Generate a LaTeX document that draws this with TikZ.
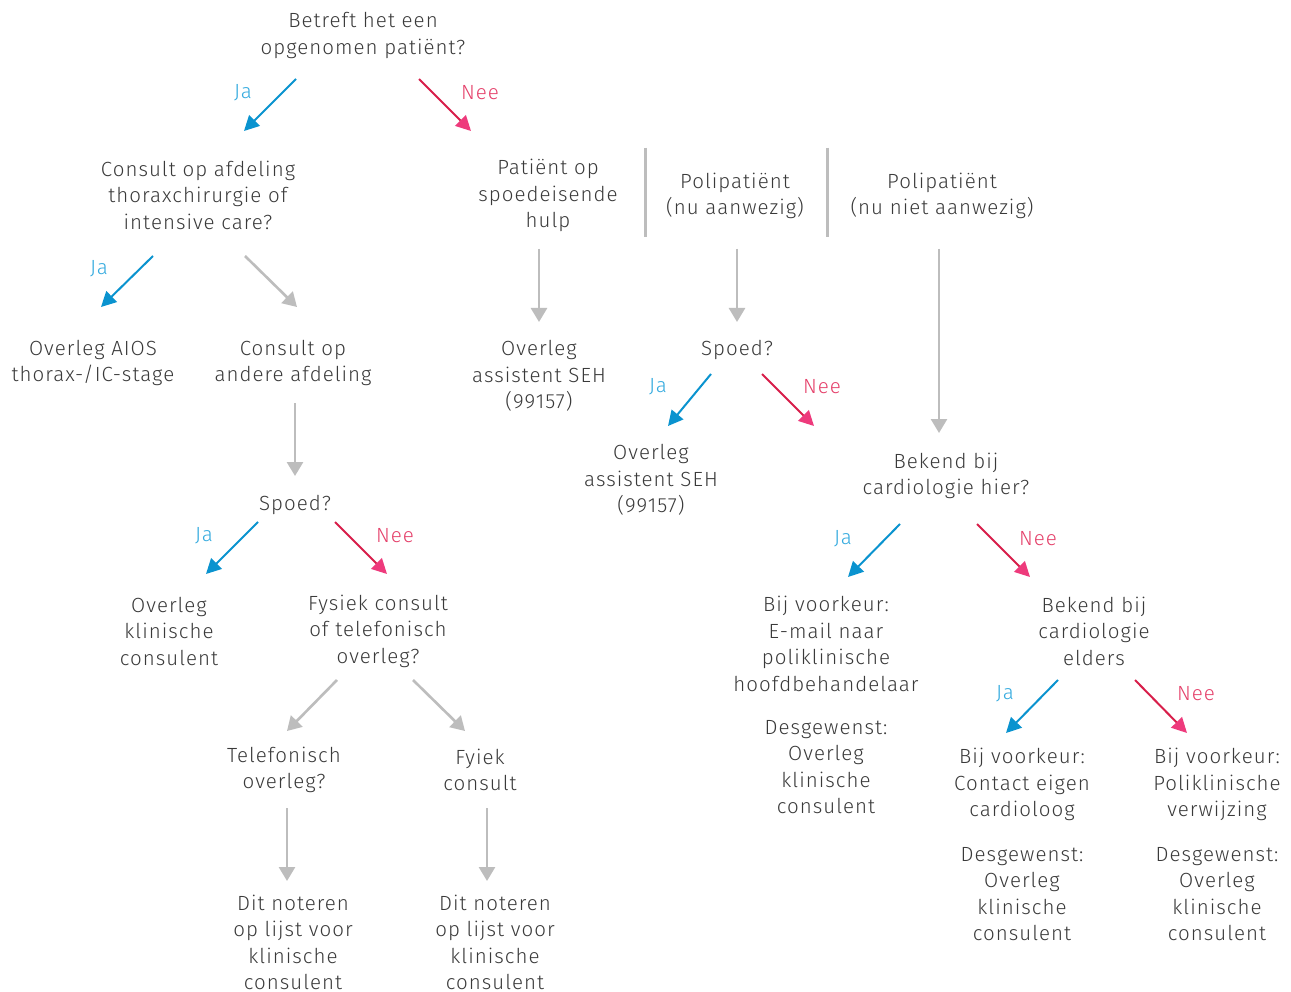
\documentclass[tikz,border=0pt]{standalone}
\usepackage{fontspec}
\IfFontExistsTF{Fira Sans Light}{\setmainfont{Fira Sans Light}[LetterSpace=5]}{\setmainfont{Fira Sans}[LetterSpace=5]}
\usetikzlibrary{arrows.meta}
\definecolor{txt}{HTML}{3A3A3A}
\definecolor{jaline}{HTML}{0A93CF}
\definecolor{jatxt}{HTML}{33AADF}
\definecolor{neeline}{HTML}{D81E4A}
\definecolor{neehead}{HTML}{EE3A7C}
\definecolor{neetxt}{HTML}{E5406A}
\definecolor{grayline}{HTML}{BDBDBD}
\tikzset{
  box/.style={align=center, text=txt, font=\fontsize{20.5}{26.5}\selectfont, inner sep=0pt, yshift=-1.5pt},
  lbl/.style={font=\fontsize{20.5}{26.5}\selectfont, inner sep=0pt, yshift=-1pt},
  jaarrow/.style={draw=jaline, line width=2pt, -{Triangle[length=15pt,width=15pt,color=jaline]}},
  neearrow/.style={draw=neeline, line width=2pt, -{Triangle[length=15pt,width=15pt,color=neehead]}},
  grayarrow/.style={draw=grayline, line width=2.6pt, -{Triangle[length=14pt,width=16pt,color=grayline]}},
  sepbar/.style={draw=grayline, line width=3pt},
}
\begin{document}
\begin{tikzpicture}[x=1pt,y=-1pt]
\useasboundingbox[fill=white] (0,0) rectangle (1291,992);

% nodes
\node[box] (q1) at (363,34) {Betreft het een\\opgenomen patiënt?};
\node[box] (q2) at (198,193.5) {Consult op afdeling\\thoraxchirurgie of\\intensive care?};
\node[box] (seh) at (548,194) {Patiënt op\\spoedeisende\\hulp};
\node[box] (pa) at (735,194.5) {Polipatiënt\\(nu aanwezig)};
\node[box] (pn) at (942,194.5) {Polipatiënt\\(nu niet aanwezig)};
\node[box] (aios) at (93,361.5) {Overleg AIOS\\thorax-/IC-stage};
\node[box] (ander) at (293,361.5) {Consult op\\andere afdeling};
\node[box] (seh1) at (539,374.5) {Overleg\\assistent SEH\\(99157)};
\node[box] (sp1) at (737,348) {Spoed?};
\node[box] (seh2) at (651,478.5) {Overleg\\assistent SEH\\(99157)};
\node[box] (hier) at (946,474.5) {Bekend bij\\cardiologie hier?};
\node[box] (sp2) at (295,503) {Spoed?};
\node[box] (klin) at (169,629.5) {Overleg\\klinische\\consulent};
\node[box] (fys) at (378,629.5) {Fysiek consult\\of telefonisch\\overleg?};
\node[box] (email) at (826,642.5) {Bij voorkeur:\\E-mail naar\\poliklinische\\hoofdbehandelaar};
\node[box] (desg1) at (826,765.5) {Desgewenst:\\Overleg\\klinische\\consulent};
\node[box] (elders) at (1094,629.5) {Bekend bij\\cardiologie\\elders};
\node[box] (tel) at (284,768.5) {Telefonisch\\overleg?};
\node[box] (fyiek) at (480,768.5) {Fyiek\\consult};
\node[box] (eigen) at (1022,783) {Bij voorkeur:\\Contact eigen\\cardioloog};
\node[box] (desg2) at (1022,892.5) {Desgewenst:\\Overleg\\klinische\\consulent};
\node[box] (poli) at (1217,783) {Bij voorkeur:\\Poliklinische\\verwijzing};
\node[box] (desg3) at (1217,892.5) {Desgewenst:\\Overleg\\klinische\\consulent};
\node[box] (dit1) at (293,941) {Dit noteren\\op lijst voor\\klinische\\consulent};
\node[box] (dit2) at (495,941) {Dit noteren\\op lijst voor\\klinische\\consulent};

% separator bars
\coordinate (b1t) at (645,148); \coordinate (b1b) at (645,237);
\coordinate (b2t) at (827,148); \coordinate (b2b) at (827,237);
\draw[sepbar] (b1t) -- (b1b);
\draw[sepbar] (b2t) -- (b2b);

% arrow end points
\coordinate (a1s) at (296,79);  \coordinate (a1e) at (244,131);
\coordinate (a2s) at (419,79);  \coordinate (a2e) at (471,131);
\coordinate (a3s) at (153,256); \coordinate (a3e) at (101,307);
\coordinate (a4s) at (245,256); \coordinate (a4e) at (297,307);
\coordinate (a5s) at (539,249); \coordinate (a5e) at (539,322);
\coordinate (a6s) at (737,249); \coordinate (a6e) at (737,322);
\coordinate (a7s) at (939,249); \coordinate (a7e) at (939,433);
\coordinate (a8s) at (711,374); \coordinate (a8e) at (668,426);
\coordinate (a9s) at (762,374); \coordinate (a9e) at (814,426);
\coordinate (a10s) at (295,403); \coordinate (a10e) at (295,476);
\coordinate (a11s) at (258,522); \coordinate (a11e) at (206,574);
\coordinate (a12s) at (335,522); \coordinate (a12e) at (387,574);
\coordinate (a13s) at (900,524); \coordinate (a13e) at (848,577);
\coordinate (a14s) at (977,524); \coordinate (a14e) at (1030,577);
\coordinate (a15s) at (337,680); \coordinate (a15e) at (287,731);
\coordinate (a16s) at (413,680); \coordinate (a16e) at (465,731);
\coordinate (a17s) at (1058,680); \coordinate (a17e) at (1006,733);
\coordinate (a18s) at (1135,680); \coordinate (a18e) at (1187,733);
\coordinate (a19s) at (287,808); \coordinate (a19e) at (287,881);
\coordinate (a20s) at (487,808); \coordinate (a20e) at (487,881);

\draw[jaarrow] (a1s) -- (a1e);
\draw[neearrow] (a2s) -- (a2e);
\draw[jaarrow] (a3s) -- (a3e);
\draw[grayarrow] (a4s) -- (a4e);
\draw[grayarrow] (a5s) -- (a5e);
\draw[grayarrow] (a6s) -- (a6e);
\draw[grayarrow] (a7s) -- (a7e);
\draw[jaarrow] (a8s) -- (a8e);
\draw[neearrow] (a9s) -- (a9e);
\draw[grayarrow] (a10s) -- (a10e);
\draw[jaarrow] (a11s) -- (a11e);
\draw[neearrow] (a12s) -- (a12e);
\draw[jaarrow] (a13s) -- (a13e);
\draw[neearrow] (a14s) -- (a14e);
\draw[grayarrow] (a15s) -- (a15e);
\draw[grayarrow] (a16s) -- (a16e);
\draw[jaarrow] (a17s) -- (a17e);
\draw[neearrow] (a18s) -- (a18e);
\draw[grayarrow] (a19s) -- (a19e);
\draw[grayarrow] (a20s) -- (a20e);

% labels
\node[lbl,text=jatxt] (l1) at (243,92) {Ja};
\node[lbl,text=neetxt] (l2) at (480,92) {Nee};
\node[lbl,text=jatxt] (l3) at (99,268) {Ja};
\node[lbl,text=jatxt] (l4) at (658,386) {Ja};
\node[lbl,text=neetxt] (l5) at (822,386) {Nee};
\node[lbl,text=jatxt] (l6) at (204,535) {Ja};
\node[lbl,text=neetxt] (l7) at (395,535) {Nee};
\node[lbl,text=jatxt] (l8) at (843,538) {Ja};
\node[lbl,text=neetxt] (l9) at (1038,538) {Nee};
\node[lbl,text=jatxt] (l10) at (1005,693) {Ja};
\node[lbl,text=neetxt] (l11) at (1196,693) {Nee};
\end{tikzpicture}
\end{document}
